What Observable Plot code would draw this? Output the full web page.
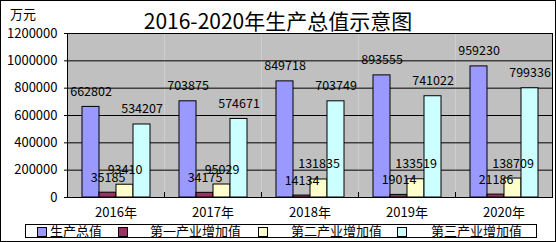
<!DOCTYPE html>
<html><head><meta charset="utf-8">
<script src="https://cdn.jsdelivr.net/npm/d3@7"></script>
<script src="https://cdn.jsdelivr.net/npm/@observablehq/plot@0.6"></script>
<style>
html,body{margin:0;padding:0;background:#fff;}
#wrap{position:relative;width:556px;height:242px;overflow:hidden;font-family:"Noto Sans CJK SC","Noto Sans",sans-serif;}
#border{position:absolute;left:0;top:0;width:554px;height:240px;border:1px solid #000;pointer-events:none;}
#title{position:absolute;left:0;width:556px;top:7px;text-align:center;font-size:21px;line-height:26px;color:#000;}
#unit{position:absolute;left:10px;top:6px;font-size:13px;line-height:16px;}
#chart{position:absolute;left:0;top:0;}
#legend{position:absolute;left:25px;top:224px;width:512px;height:14px;border:1px solid #000;box-sizing:border-box;}
.li{position:absolute;top:0;height:14px;font-size:13px;line-height:12px;white-space:nowrap;}
.sw{position:absolute;top:2px;width:8px;height:8px;border:1px solid #000;}
</style></head>
<body>
<div id="wrap">
  <div id="title"></div>
  <div id="unit"></div>
  <div id="chart"></div>
  <div id="legend"></div>
  <div id="border"></div>
</div>
<script>
const titleText = "2016-2020年生产总值示意图";
const unitText = "万元";
const years = ["2016年", "2017年", "2018年", "2019年", "2020年"];
const seriesNames = ["生产总值", "第一产业增加值", "第二产业增加值", "第三产业增加值"];
const gdp = [662802, 703875, 849718, 893555, 959230];
const primary = [35185, 34175, 14134, 19014, 21186];
const secondary = [93410, 95029, 131835, 133519, 138709];
const tertiary = [534207, 574671, 703749, 741022, 799336];
const colors = ["#9999FF", "#993366", "#FFFFCC", "#CCFFFF"];
const yTicks = [0, 200000, 400000, 600000, 800000, 1000000, 1200000];

document.getElementById("title").textContent = titleText;
document.getElementById("unit").textContent = unitText;

const seriesValues = [gdp, primary, secondary, tertiary];
const data = [];
years.forEach((yr, i) => seriesNames.forEach((s, k) => data.push({year: yr, series: s, value: seriesValues[k][i]})));

const chart = Plot.plot({
  width: 556,
  height: 240,
  marginTop: 33,
  marginBottom: 43,
  marginLeft: 65,
  marginRight: 3,
  style: {fontFamily: '"Noto Sans CJK SC","Noto Sans",sans-serif', fontSize: "13px", color: "#000", background: "transparent"},
  fx: {domain: years, padding: 0, label: null},
  x: {domain: seriesNames, paddingInner: 0, paddingOuter: 0.75, axis: null},
  y: {domain: [0, 1200000], label: null},
  color: {domain: seriesNames, range: colors},
  marks: [
    Plot.frame({fill: "#C0C0C0"}),
    Plot.gridY(yTicks, {stroke: "#000", strokeOpacity: 1, strokeWidth: 1}),
    Plot.barY(data, {fx: "year", x: "series", y: "value", fill: "series", stroke: "#000", strokeWidth: 1}),
    Plot.frame({anchor: "left", insetTop: 159, stroke: "#000"}),
    Plot.text(data, {fx: "year", x: "series", y: "value", text: d => String(d.value), dy: -15, fontSize: 12.5, fill: "#000"}),
    Plot.frame({stroke: "#000", facet: "super"}),
    Plot.axisY(yTicks, {tickSize: 3, tickPadding: 7, tickFormat: d => String(d), fontSize: 13}),
    Plot.axisFx({anchor: "bottom", tickSize: 0, tickPadding: 10, fontSize: 13, label: null})
  ]
});
document.getElementById("chart").appendChild(chart);

const legend = document.getElementById("legend");
const swLeft = [11, 92, 232, 371];
const txLeft = [24, 124, 265, 405];
seriesNames.forEach((s, k) => {
  const sw = document.createElement("div");
  sw.className = "sw";
  sw.style.left = swLeft[k] + "px";
  sw.style.background = colors[k];
  legend.appendChild(sw);
  const t = document.createElement("div");
  t.className = "li";
  t.style.left = txLeft[k] + "px";
  t.textContent = s;
  legend.appendChild(t);
});
</script>
</body></html>
